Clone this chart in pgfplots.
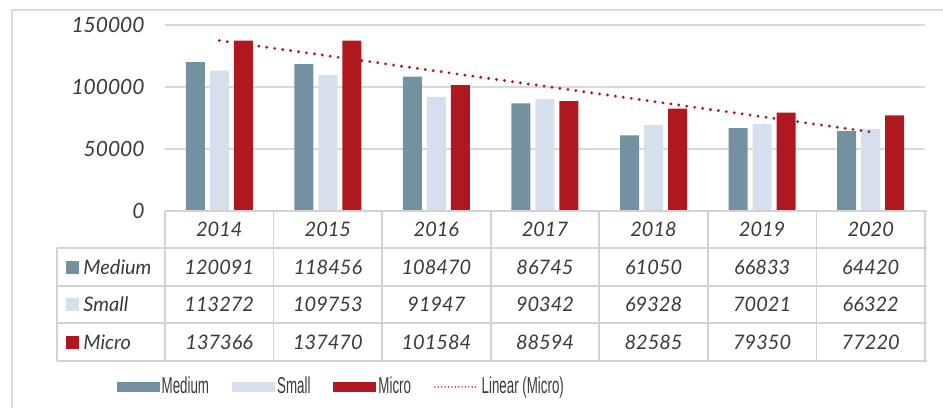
\documentclass[border=0pt]{standalone}
\usepackage{fontspec}
\setmainfont{Lato}
\newfontfamily\legfont[FakeStretch=0.58]{Liberation Sans}
\usepackage{pgfplots}
\pgfplotsset{compat=1.18}

\definecolor{medium}{HTML}{7391A1}
\definecolor{small}{HTML}{D5E0EC}
\definecolor{micro}{HTML}{B0181F}
\definecolor{gridgray}{HTML}{D9D9D9}
\definecolor{tabline}{HTML}{D2D2D2}
\definecolor{txt}{HTML}{3A3A3A}

\newcommand{\tabfont}{\itshape\fontsize{10}{12}\selectfont}

\begin{document}
\begin{tikzpicture}
% frame, in pixel units of the reference
\begin{scope}[x=0.5pt,y=-0.5pt]
  \draw[gridgray, line width=1pt] (12,10) -- (943,10);
  \draw[gridgray, line width=1pt] (12,10) -- (12,408);
\end{scope}

\begin{axis}[
  at={(82.5pt,-105.5pt)}, anchor=south west,
  width=380pt, height=93pt, scale only axis,
  xmin=-0.5, xmax=6.5, ymin=0, ymax=150000,
  ybar=2.5pt, bar width=9.5pt,
  axis line style={draw=none}, major tick length=0pt,
  ytick={0,50000,100000,150000},
  scaled y ticks=false,
  /pgf/number format/.cd, fixed, 1000 sep={}, assume math mode=true, /pgfplots/.cd,
  ymajorgrids, grid style={gridgray, line width=0.75pt},
  xtick={0,...,6}, xticklabels={2014,2015,2016,2017,2018,2019,2020},
  xticklabel style={anchor=center, yshift=-9pt, font=\tabfont, text=txt},
  yticklabel style={anchor=east, inner sep=0pt, xshift=-10pt,
    font=\itshape\fontsize{10.5}{12}\selectfont, text=txt},
  clip=false,
  legend columns=4,
  legend cell align=left,
  legend style={draw=none, fill=none, at={(axis description cs:0.232,-0.946)},
    anchor=center, font=\legfont\fontsize{11.5}{13}\selectfont, text=txt,
    nodes={inner sep=1pt},
    /tikz/every even column/.append style={column sep=10.5pt}},
]
\addplot[fill=medium, draw=none,
  legend image code/.code={\fill[medium] (0pt,-2.6pt) rectangle (21.5pt,2.6pt);}]
  coordinates {(0,120091) (1,118456) (2,108470) (3,86745) (4,61050) (5,66833) (6,64420)};
\addplot[fill=small, draw=none,
  legend image code/.code={\fill[small] (0pt,-2.6pt) rectangle (21.5pt,2.6pt);}]
  coordinates {(0,113272) (1,109753) (2,91947) (3,90342) (4,69328) (5,70021) (6,66322)};
\addplot[fill=micro, draw=none,
  legend image code/.code={\fill[micro] (0pt,-2.6pt) rectangle (21.5pt,2.6pt);}]
  coordinates {(0,137366) (1,137470) (2,101584) (3,88594) (4,82585) (5,79350) (6,77220)};
% linear trend of Micro
\addplot[sharp plot, micro, line width=1.6pt, line cap=round, dash pattern=on 0pt off 4pt,
  legend image code/.code={\draw[micro, line width=0.8pt, line cap=round, dash pattern=on 0pt off 1.7pt] (0pt,0pt) -- (22pt,0pt);}]
  coordinates {(0,137418) (6,63773)};
\legend{Medium,Small,Micro,Linear (Micro)}
\end{axis}

% data table below the plot
\begin{scope}[x=0.5pt,y=-0.5pt, every node/.style={font=\tabfont, text=txt, inner sep=0pt}]
  \draw[tabline, line width=0.8pt] (165,211) -- (927,211);
  \foreach \yy in {248,286,323,361} \draw[tabline, line width=0.8pt] (57,\yy) -- (927,\yy);
  \foreach \k in {0,...,7} \draw[tabline, line width=0.8pt] ({165+108.571*\k},211) -- ({165+108.571*\k},361);
  \draw[tabline, line width=0.8pt] (57,248) -- (57,361);
  \fill[medium] (66,261) rectangle (79,274);
  \fill[small] (66,298) rectangle (79,311);
  \fill[micro] (66,336) rectangle (79,349);
  \node[anchor=west] at (83,267) {Medium};
  \node[anchor=west] at (83,304.5) {Small};
  \node[anchor=west] at (83,342) {Micro};
  \foreach \v [count=\i from 0] in {120091,118456,108470,86745,61050,66833,64420}
    \node at ({165+108.571*(\i+0.5)},267) {\v};
  \foreach \v [count=\i from 0] in {113272,109753,91947,90342,69328,70021,66322}
    \node at ({165+108.571*(\i+0.5)},304.5) {\v};
  \foreach \v [count=\i from 0] in {137366,137470,101584,88594,82585,79350,77220}
    \node at ({165+108.571*(\i+0.5)},342) {\v};
\end{scope}
\pgfresetboundingbox
\useasboundingbox (0pt,0pt) rectangle (471.5pt,-204pt);
\end{tikzpicture}
\end{document}
